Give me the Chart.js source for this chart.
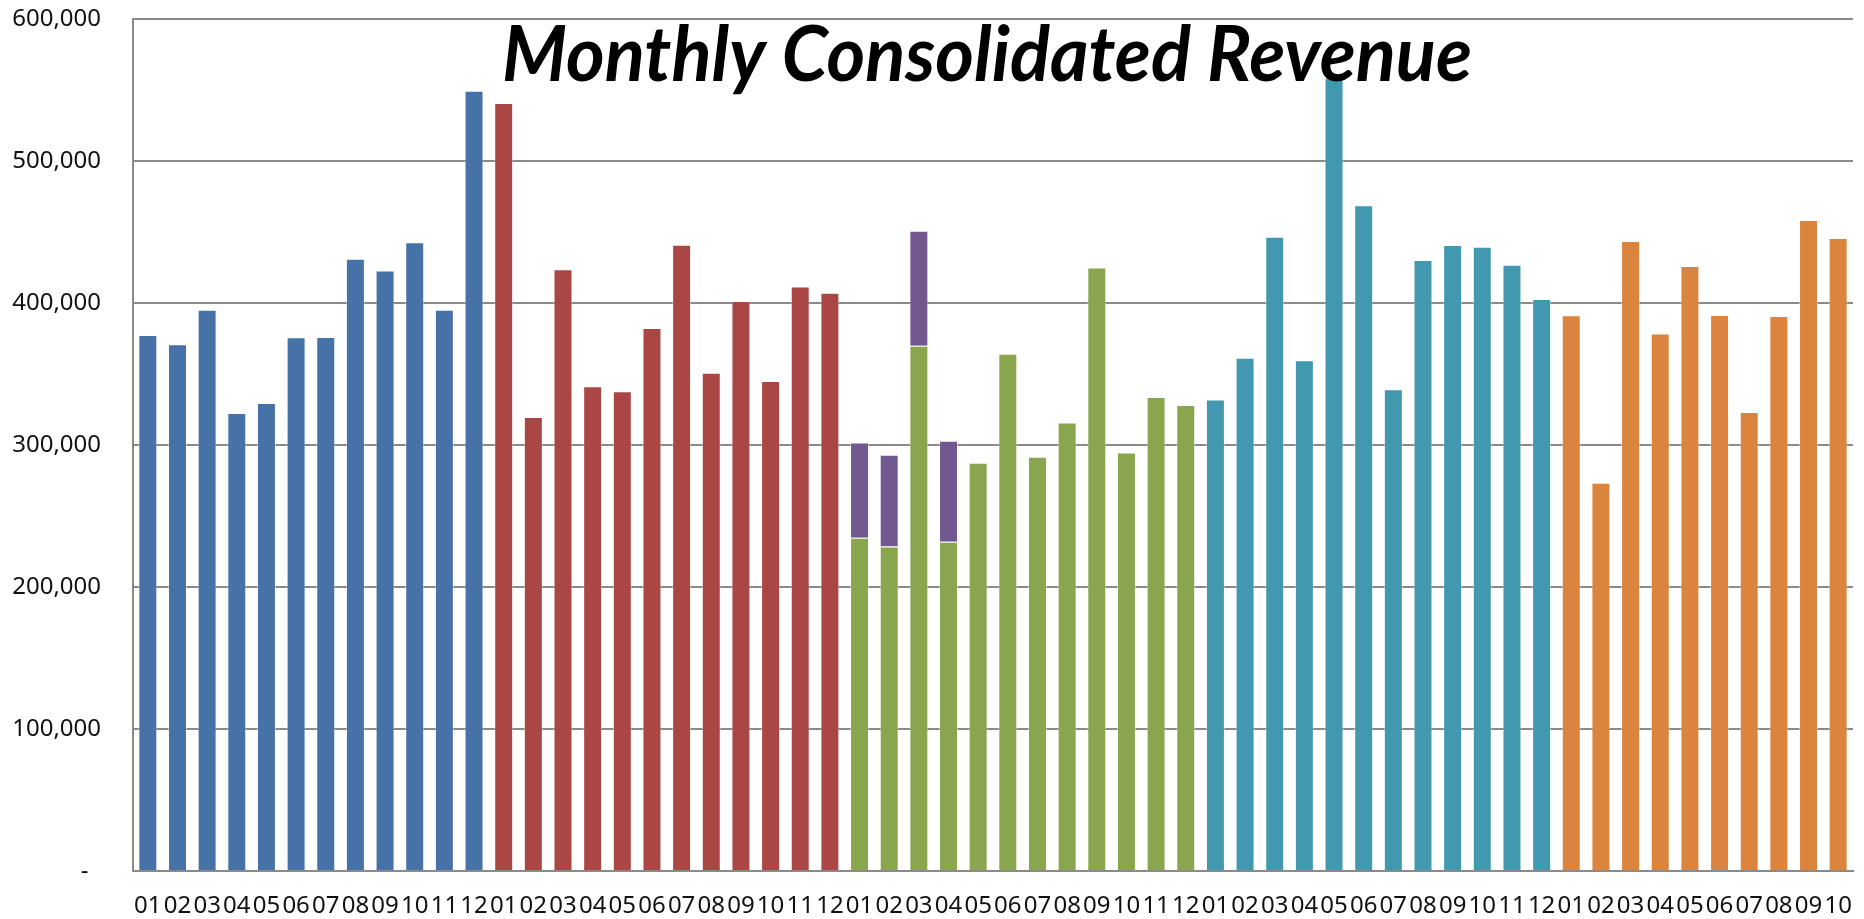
<!DOCTYPE html>
<html>
<head>
<meta charset="utf-8">
<title>Monthly Consolidated Revenue</title>
<script src="https://cdn.jsdelivr.net/npm/chart.js@4.4.1/dist/chart.umd.min.js"></script>
<style>
    html, body { margin: 0; padding: 0; background: #ffffff; }
    #wrap { width: 1864px; height: 919px; }
</style>
</head>
<body>
<div id="wrap"><canvas id="revenueChart" width="1864" height="919"></canvas></div>
<script>
// Month labels and revenue, one array per year
const months = ['01', '02', '03', '04', '05', '06', '07', '08', '09', '10', '11', '12'];
const year1 = [377400, 370900, 395300, 322500, 329500, 375800, 376000, 431200, 422800, 442800, 395300, 549400];
const year2 = [540900, 319700, 423700, 341300, 337800, 382400, 441000, 350900, 401400, 345000, 411700, 407300];
const year3 = [234600, 228500, 369900, 231800, 287500, 364300, 291700, 315900, 425000, 294800, 333800, 328100];
const year3Extra = [67200, 64600, 81000, 71200]; // purple part on top of 01-04
const year4 = [332100, 361500, 446700, 359600, 558800, 468800, 339200, 430300, 440900, 439700, 427000, 402800];
const year5 = [391300, 273400, 443700, 378600, 426100, 391500, 323200, 390800, 458500, 445800];
const yTicks = [0, 100000, 200000, 300000, 400000, 500000, 600000];

const yearColors = ['#4672A8', '#AA4744', '#89A54E', '#4198AF', '#DB843E'];
const extraColor = '#71598F';

// Build the flat category axis and per-bar colours
const years = [year1, year2, year3, year4, year5];
let labels = [];
let revenue = [];
let barColors = [];
years.forEach((yr, i) => {
    yr.forEach((v, j) => {
        labels.push(months[j]);
        revenue.push(v);
        barColors.push(yearColors[i]);
    });
});
const extraStart = year1.length + year2.length;
const extra = labels.map((l, i) => {
    const k = i - extraStart;
    return (k >= 0 && k < year3Extra.length) ? year3Extra[k] : null;
});

// Title is drawn over the plot, like the original
const overlayTitle = {
    id: 'overlayTitle',
    afterDatasetsDraw(chart) {
        const ctx = chart.ctx;
        const text = 'Monthly Consolidated Revenue';
        ctx.save();
        ctx.font = 'italic bold 76px Lato';
        const w = ctx.measureText(text).width;
        const sx = 970 / w;
        ctx.translate(987, 81);
        ctx.scale(sx, 1);
        ctx.fillStyle = '#000000';
        ctx.textAlign = 'center';
        ctx.textBaseline = 'alphabetic';
        ctx.fillText(text, 0, 0);
        ctx.restore();
    }
};

const ctx = document.getElementById('revenueChart').getContext('2d');
const revenueChart = new Chart(ctx, {
    type: 'bar',
    data: {
        labels: labels,
        datasets: [{
            label: 'Revenue',
            data: revenue,
            backgroundColor: barColors,
            borderColor: 'rgba(255,255,255,0.45)',
            borderWidth: 1,
            barPercentage: 0.64,
            categoryPercentage: 1.0,
            stack: 'rev'
        }, {
            label: 'Extra',
            data: extra,
            backgroundColor: extraColor,
            borderColor: 'rgba(255,255,255,0.45)',
            borderWidth: 1,
            barPercentage: 0.64,
            categoryPercentage: 1.0,
            stack: 'rev'
        }]
    },
    options: {
        responsive: false,
        animation: false,
        layout: {
            padding: { top: 19, right: 11, left: 0, bottom: 0 }
        },
        plugins: {
            legend: { display: false },
            tooltip: { enabled: false },
            title: { display: false }
        },
        scales: {
            x: {
                stacked: true,
                grid: { display: false, drawTicks: false },
                border: { display: true, color: '#8a8a8a', width: 2 },
                ticks: {
                    autoSkip: false,
                    maxRotation: 0,
                    minRotation: 0,
                    padding: 21,
                    color: '#111111',
                    font: { family: 'Noto Sans', size: 24 }
                },
                afterFit(scale) {
                    scale.height = 48;
                    scale.paddingLeft = 0;
                    scale.paddingRight = 0;
                }
            },
            y: {
                stacked: true,
                min: 0,
                max: 600000,
                afterBuildTicks(scale) {
                    scale.ticks = yTicks.map(v => ({ value: v }));
                },
                grid: { color: '#8a8a8a', lineWidth: 2, drawTicks: false },
                border: { display: true, color: '#8a8a8a', width: 2 },
                ticks: {
                    padding: 32,
                    color: '#111111',
                    font: { family: 'Noto Sans', size: 24 },
                    callback: function (value) {
                        return value === 0 ? '-  ' : value.toLocaleString('en-US');
                    }
                },
                afterFit(scale) {
                    scale.width = 133;
                    scale.paddingTop = 0;
                    scale.paddingBottom = 0;
                }
            }
        }
    },
    plugins: [overlayTitle]
});
</script>
</body>
</html>
